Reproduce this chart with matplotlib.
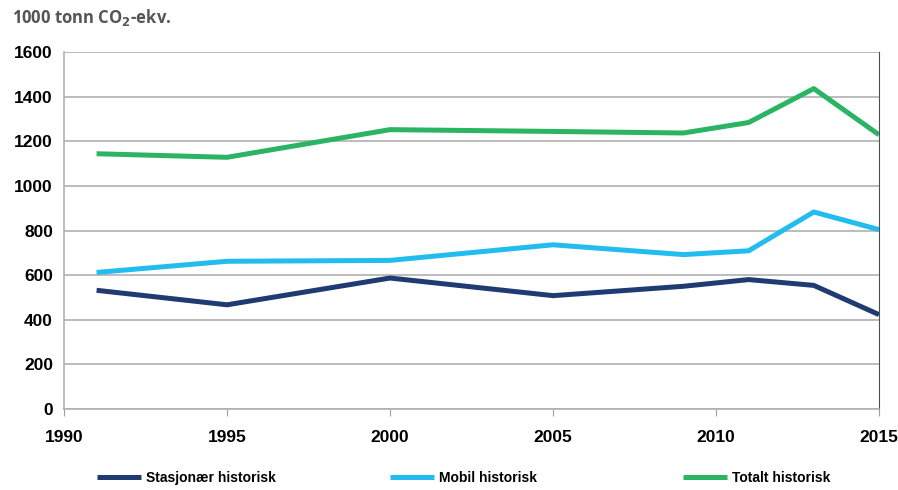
import matplotlib.pyplot as plt
from matplotlib.legend import Legend

years = [1991, 1995, 2000, 2005, 2009, 2011, 2013, 2015]
stasjonaer = [532, 467, 587, 508, 550, 580, 554, 423]
mobil = [612, 662, 666, 736, 692, 709, 883, 804]
totalt = [1144, 1128, 1252, 1244, 1237, 1284, 1436, 1229]

x_ticks = [1990, 1995, 2000, 2005, 2010, 2015]
y_ticks = [0, 200, 400, 600, 800, 1000, 1200, 1400, 1600]

plt.rcParams['font.family'] = ['Liberation Sans', 'DejaVu Sans']
plt.rcParams['font.weight'] = 'bold'

fig = plt.figure(figsize=(8.98, 4.9), dpi=100)
ax = fig.add_axes([64 / 898, 1 - 409 / 490, 815 / 898, 357 / 490])

l1, = ax.plot(years, stasjonaer, color='#203a72', lw=3.6, label='Stasjonær historisk', solid_capstyle='butt')
l2, = ax.plot(years, mobil, color='#22bdee', lw=3.6, label='Mobil historisk', solid_capstyle='butt')
l3, = ax.plot(years, totalt, color='#2bb463', lw=3.6, label='Totalt historisk', solid_capstyle='butt')

ax.set_xlim(1990, 2015)
ax.set_ylim(0, 1600)
ax.set_xticks(x_ticks)
ax.set_yticks(y_ticks)
ax.grid(axis='y', color='#b0b0b0', lw=1.2)
ax.set_axisbelow(True)

ax.tick_params(axis='both', labelsize=12.5, labelcolor='black')
ax.tick_params(axis='y', length=0, pad=8)
ax.tick_params(axis='x', length=5, color='#a0a0a0', pad=10, direction='out')

ax.spines['top'].set_visible(False)
ax.spines['left'].set_color('#b0b0b0')
ax.spines['bottom'].set_color('#b0b0b0')
ax.spines['right'].set_color('#505050')
ax.spines['left'].set_linewidth(1.2)
ax.spines['bottom'].set_linewidth(1.2)

fig.text(12 / 898, 1 - 18 / 490, '1000 tonn CO$_2$-ekv.', fontsize=12, fontweight='bold',
         color='#555555', va='center', family=['Open Sans', 'DejaVu Sans'])

# three legend entries placed separately, like the original
for line, xpos in [(l1, 97), (l2, 390), (l3, 683)]:
    leg = Legend(fig, [line], [line.get_label()], loc='center left',
                 bbox_to_anchor=(xpos / 898, 1 - 478 / 490), frameon=False,
                 prop={'weight': 'bold', 'size': 10}, handlelength=3.2,
                 handletextpad=0.3, borderpad=0, borderaxespad=0)
    fig.add_artist(leg)

fig.savefig('out.png', dpi=100)
